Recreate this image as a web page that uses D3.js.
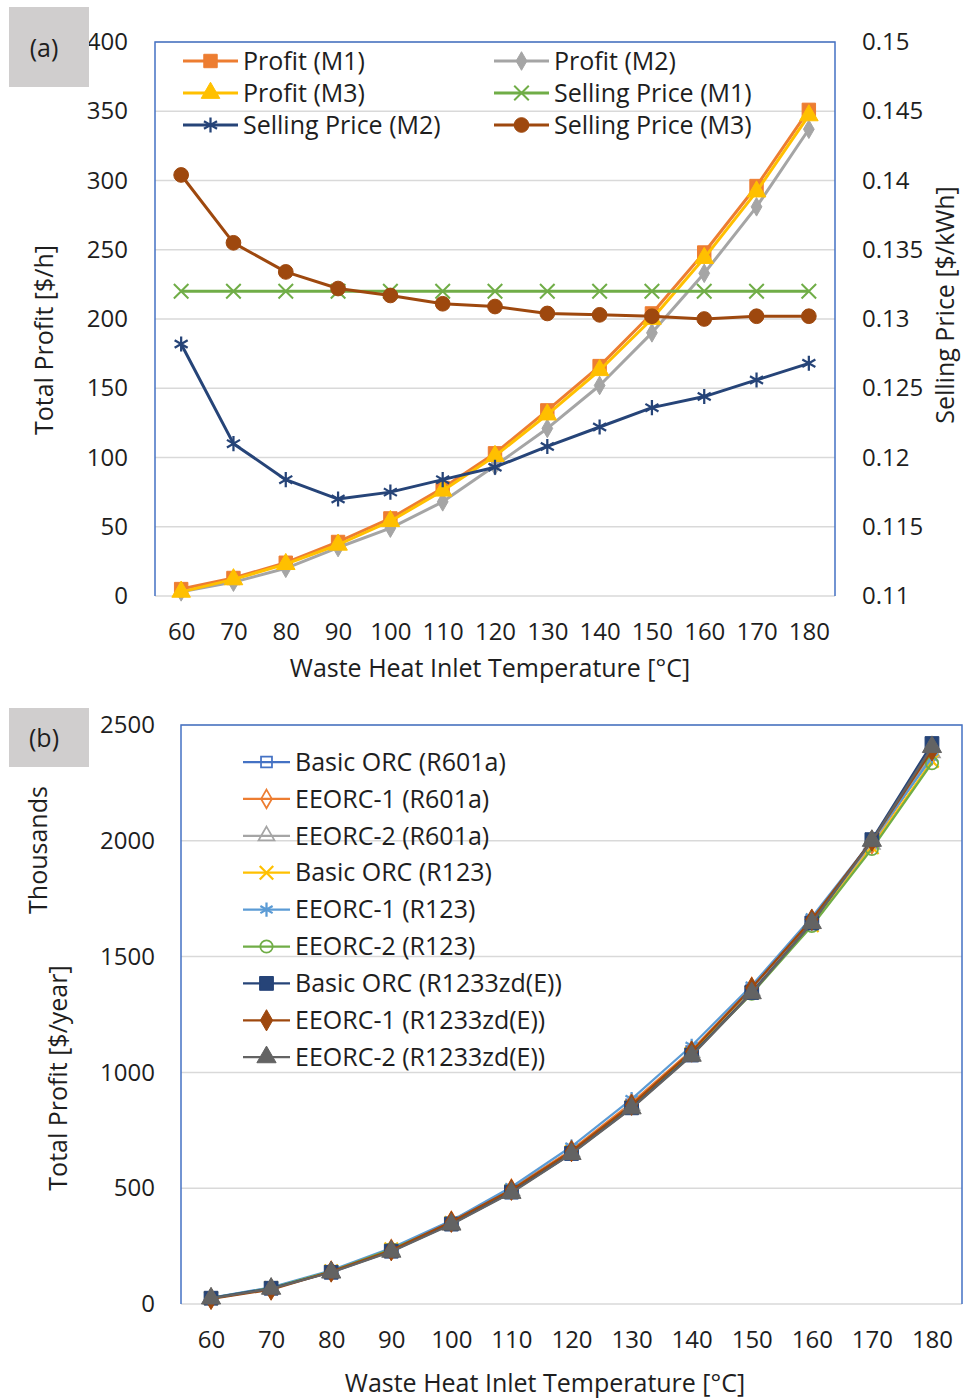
<!DOCTYPE html>
<html>
<head>
<meta charset="utf-8">
<script src="https://cdn.jsdelivr.net/npm/d3@7"></script>
<style>
  html, body { margin: 0; padding: 0; background: #fff; }
  svg { display: block; }
  text { font-family: "Open Sans", "Noto Sans", sans-serif; fill: #1e1e1e; }
</style>
</head>
<body>
<svg id="chart" width="964" height="1399"></svg>
<script>
// Waste heat inlet temperatures (°C), shared by both panels
const temps = [60, 70, 80, 90, 100, 110, 120, 130, 140, 150, 160, 170, 180];

// Panel (a): total profit ($/h) for three pricing methods
const profitM1 = [5, 13, 24, 39, 56, 78, 103, 134, 166, 204, 248, 296, 351];
const profitM2 = [3, 10, 20, 35, 49, 68, 94, 121, 152, 190, 233, 281, 337];
const profitM3 = [3, 12, 23, 37, 54, 76, 101, 131, 163, 200, 244, 292, 347];
// Panel (a): electricity selling price ($/kWh)
const priceM1 = [0.132, 0.132, 0.132, 0.132, 0.132, 0.132, 0.132, 0.132, 0.132, 0.132, 0.132, 0.132, 0.132];
const priceM2 = [0.1282, 0.1210, 0.1184, 0.1170, 0.1175, 0.1184, 0.1193, 0.1208, 0.1222, 0.1236, 0.1244, 0.1256, 0.1268];
const priceM3 = [0.1404, 0.1355, 0.1334, 0.1322, 0.1317, 0.1311, 0.1309, 0.1304, 0.1303, 0.1302, 0.1300, 0.1302, 0.1302];
const profitTicksA = [0, 50, 100, 150, 200, 250, 300, 350, 400];
const priceTicksA = [0.11, 0.115, 0.12, 0.125, 0.13, 0.135, 0.14, 0.145, 0.15];

// Panel (b): total profit (thousand $/year) per cycle layout and working fluid
const basicR601a   = [26, 70, 140, 235, 350, 490, 660, 860, 1090, 1355, 1650, 1995, 2395];
const eeorc1R601a  = [24, 66, 142, 236, 358, 497, 665, 868, 1095, 1368, 1655, 1985, 2370];
const eeorc2R601a  = [25, 68, 139, 233, 350, 490, 657, 858, 1085, 1352, 1645, 1985, 2380];
const basicR123    = [25, 69, 141, 236, 350, 488, 655, 850, 1080, 1345, 1635, 1972, 2345];
const eeorc1R123   = [27, 72, 145, 242, 360, 505, 680, 885, 1115, 1375, 1670, 2000, 2360];
const eeorc2R123   = [25, 69, 141, 236, 350, 490, 655, 852, 1078, 1340, 1632, 1965, 2335];
const basicR1233   = [25, 68, 137, 228, 345, 483, 650, 847, 1075, 1345, 1645, 2005, 2420];
const eeorc1R1233  = [22, 62, 140, 232, 355, 493, 660, 860, 1090, 1365, 1660, 2000, 2390];
const eeorc2R1233  = [24, 66, 136, 226, 343, 480, 648, 845, 1072, 1342, 1645, 2000, 2405];
const profitTicksB = [0, 500, 1000, 1500, 2000, 2500];

const svg = d3.select("#chart");
const BLUE = "#4472C4", GRID = "#d9d9d9";
const TICK_FS = 24, TITLE_FS = 25, LEGEND_FS = 25;

// ---------- shared helpers ----------
function markerPath(type, size) {
  return d3.symbol().type(type).size(size)();
}

function drawSeries(g, x, y, values, s) {
  const pts = temps.map((t, i) => [x(t), y(values[i])]);
  g.append("path")
    .attr("d", d3.line()(pts))
    .attr("fill", "none")
    .attr("stroke", s.color)
    .attr("stroke-width", s.width)
    .attr("stroke-linejoin", "round");
  g.selectAll(null).data(pts).enter().append("path")
    .attr("transform", d => `translate(${d[0]},${d[1]})`)
    .attr("d", markerPath(s.symbol, s.size))
    .attr("fill", s.fill)
    .attr("stroke", s.stroke)
    .attr("stroke-width", s.mw);
}

function legendItem(g, lx, ly, s, lineLen, label, fontSize) {
  const it = g.append("g").attr("transform", `translate(${lx},${ly})`);
  it.append("line").attr("x1", 0).attr("x2", lineLen).attr("y1", 0).attr("y2", 0)
    .attr("stroke", s.color).attr("stroke-width", s.width);
  it.append("path").attr("transform", `translate(${lineLen / 2},0)`)
    .attr("d", markerPath(s.symbol, s.size))
    .attr("fill", s.fill).attr("stroke", s.stroke).attr("stroke-width", s.mw);
  it.append("text").attr("x", lineLen + 5).attr("y", 0).attr("dy", "0.35em")
    .attr("font-size", fontSize).text(label);
}

function panelTag(x0, y0, w, h, tx, ty, label) {
  svg.append("rect").attr("x", x0).attr("y", y0).attr("width", w).attr("height", h).attr("fill", "#d0cece");
  svg.append("text").attr("x", tx).attr("y", ty).attr("dy", "0.35em")
    .attr("text-anchor", "middle").attr("font-size", TITLE_FS).text(label);
}

function styleAxis(a) {
  a.select(".domain").remove();
  a.selectAll("text").attr("font-size", TICK_FS).attr("fill", "#1e1e1e")
    .attr("font-family", '"Open Sans", sans-serif');
}

// ---------- panel (a) ----------
{
  const L = 155, R = 835, T = 42, B = 596;
  const x = d3.scalePoint().domain(temps).range([L, R]).padding(0.5);
  const y = d3.scaleLinear().domain([0, 400]).range([B, T]);
  const y2 = d3.scaleLinear().domain([0.11, 0.15]).range([B, T]);
  const g = svg.append("g");

  // gridlines
  g.selectAll(null).data(profitTicksA).enter().append("line")
    .attr("x1", L).attr("x2", R).attr("y1", d => y(d)).attr("y2", d => y(d))
    .attr("stroke", GRID).attr("stroke-width", 1.5);
  // plot frame (blue on left, top, right)
  g.append("path").attr("d", `M${L},${B}V${T}H${R}V${B}`)
    .attr("fill", "none").attr("stroke", BLUE).attr("stroke-width", 1.5);

  // axes
  styleAxis(g.append("g").attr("transform", `translate(${L},0)`)
    .call(d3.axisLeft(y).tickValues(profitTicksA).tickSize(0).tickPadding(27).tickFormat(d3.format("d"))));
  styleAxis(g.append("g").attr("transform", `translate(${R},0)`)
    .call(d3.axisRight(y2).tickValues(priceTicksA).tickSize(0).tickPadding(27).tickFormat(d => String(+d.toFixed(3)))));
  styleAxis(g.append("g").attr("transform", `translate(0,${B})`)
    .call(d3.axisBottom(x).tickSize(0).tickPadding(27)));

  g.append("text").attr("x", 490).attr("y", 668).attr("dy", "0.35em")
    .attr("text-anchor", "middle").attr("font-size", TITLE_FS).text("Waste Heat Inlet Temperature [°C]");
  g.append("text").attr("transform", "translate(44,340) rotate(-90)").attr("dy", "0.35em")
    .attr("text-anchor", "middle").attr("font-size", TITLE_FS).text("Total Profit [$/h]");
  g.append("text").attr("transform", "translate(945,305) rotate(-90)").attr("dy", "0.35em")
    .attr("text-anchor", "middle").attr("font-size", TITLE_FS).text("Selling Price [$/kWh]");

  const sty = {
    p1: { color: "#ED7D31", width: 3, symbol: d3.symbolSquare, size: 180, fill: "#ED7D31", stroke: "#ED7D31", mw: 1 },
    p2: { color: "#A5A5A5", width: 3, symbol: d3.symbolDiamond, size: 100, fill: "#A5A5A5", stroke: "#A5A5A5", mw: 1 },
    p3: { color: "#FFC000", width: 3, symbol: d3.symbolTriangle, size: 150, fill: "#FFC000", stroke: "#FFC000", mw: 1 },
    s1: { color: "#70AD47", width: 3, symbol: d3.symbolTimes, size: 140, fill: "none", stroke: "#70AD47", mw: 2 },
    s2: { color: "#264478", width: 3, symbol: d3.symbolAsterisk, size: 160, fill: "none", stroke: "#264478", mw: 2.25 },
    s3: { color: "#9E480E", width: 3, symbol: d3.symbolCircle, size: 170, fill: "#9E480E", stroke: "#9E480E", mw: 1 }
  };

  drawSeries(g, x, y, profitM1, sty.p1);
  drawSeries(g, x, y, profitM2, sty.p2);
  drawSeries(g, x, y, profitM3, sty.p3);
  drawSeries(g, x, y2, priceM1, sty.s1);
  drawSeries(g, x, y2, priceM2, sty.s2);
  drawSeries(g, x, y2, priceM3, sty.s3);

  const lg = g.append("g");
  legendItem(lg, 183, 61, sty.p1, 55, "Profit (M1)", LEGEND_FS);
  legendItem(lg, 494, 61, sty.p2, 55, "Profit (M2)", LEGEND_FS);
  legendItem(lg, 183, 93, sty.p3, 55, "Profit (M3)", LEGEND_FS);
  legendItem(lg, 494, 93, sty.s1, 55, "Selling Price (M1)", LEGEND_FS);
  legendItem(lg, 183, 125, sty.s2, 55, "Selling Price (M2)", LEGEND_FS);
  legendItem(lg, 494, 125, sty.s3, 55, "Selling Price (M3)", LEGEND_FS);

  panelTag(9, 7, 80, 80, 44, 48, "(a)");
}

// ---------- panel (b) ----------
{
  const L = 181, R = 962, T = 725, B = 1304;
  const x = d3.scalePoint().domain(temps).range([L, R]).padding(0.5);
  const y = d3.scaleLinear().domain([0, 2500]).range([B, T]);
  const g = svg.append("g");

  g.selectAll(null).data(profitTicksB).enter().append("line")
    .attr("x1", L).attr("x2", R).attr("y1", d => y(d)).attr("y2", d => y(d))
    .attr("stroke", GRID).attr("stroke-width", 1.5);
  g.append("path").attr("d", `M${L},${B}V${T}H${R}V${B}`)
    .attr("fill", "none").attr("stroke", BLUE).attr("stroke-width", 1.5);

  styleAxis(g.append("g").attr("transform", `translate(${L},0)`)
    .call(d3.axisLeft(y).tickValues(profitTicksB).tickSize(0).tickPadding(26).tickFormat(d3.format("d"))));
  styleAxis(g.append("g").attr("transform", `translate(0,${B})`)
    .call(d3.axisBottom(x).tickSize(0).tickPadding(27)));

  g.append("text").attr("x", 545).attr("y", 1383).attr("dy", "0.35em")
    .attr("text-anchor", "middle").attr("font-size", TITLE_FS).text("Waste Heat Inlet Temperature [°C]");
  g.append("text").attr("transform", "translate(38,850) rotate(-90)").attr("dy", "0.35em")
    .attr("text-anchor", "middle").attr("font-size", TITLE_FS).text("Thousands");
  g.append("text").attr("transform", "translate(58,1078) rotate(-90)").attr("dy", "0.35em")
    .attr("text-anchor", "middle").attr("font-size", TITLE_FS).text("Total Profit [$/year]");

  const series = [
    { label: "Basic ORC (R601a)", v: basicR601a, s: { color: "#4472C4", width: 2.25, symbol: d3.symbolSquare, size: 120, fill: "none", stroke: "#4472C4", mw: 1.75 } },
    { label: "EEORC-1 (R601a)", v: eeorc1R601a, s: { color: "#ED7D31", width: 2.25, symbol: d3.symbolDiamond, size: 100, fill: "none", stroke: "#ED7D31", mw: 1.75 } },
    { label: "EEORC-2 (R601a)", v: eeorc2R601a, s: { color: "#A5A5A5", width: 2.25, symbol: d3.symbolTriangle, size: 110, fill: "none", stroke: "#A5A5A5", mw: 1.75 } },
    { label: "Basic ORC (R123)", v: basicR123, s: { color: "#FFC000", width: 2.25, symbol: d3.symbolTimes, size: 120, fill: "none", stroke: "#FFC000", mw: 2.25 } },
    { label: "EEORC-1 (R123)", v: eeorc1R123, s: { color: "#5B9BD5", width: 2.25, symbol: d3.symbolAsterisk, size: 140, fill: "none", stroke: "#5B9BD5", mw: 2.25 } },
    { label: "EEORC-2 (R123)", v: eeorc2R123, s: { color: "#70AD47", width: 2.25, symbol: d3.symbolCircle, size: 120, fill: "none", stroke: "#70AD47", mw: 1.75 } },
    { label: "Basic ORC (R1233zd(E))", v: basicR1233, s: { color: "#264478", width: 2.25, symbol: d3.symbolSquare, size: 190, fill: "#264478", stroke: "#264478", mw: 1 } },
    { label: "EEORC-1 (R1233zd(E))", v: eeorc1R1233, s: { color: "#9E480E", width: 2.25, symbol: d3.symbolDiamond, size: 130, fill: "#9E480E", stroke: "#9E480E", mw: 1 } },
    { label: "EEORC-2 (R1233zd(E))", v: eeorc2R1233, s: { color: "#636363", width: 2.25, symbol: d3.symbolTriangle, size: 160, fill: "#636363", stroke: "#636363", mw: 1 } }
  ];

  series.forEach(d => drawSeries(g, x, y, d.v, d.s));

  const lg = g.append("g");
  series.forEach((d, i) => legendItem(lg, 243, 762 + i * 36.9, d.s, 47, d.label, LEGEND_FS));

  panelTag(9, 708, 80, 59, 44, 738, "(b)");
}
</script>
</body>
</html>
